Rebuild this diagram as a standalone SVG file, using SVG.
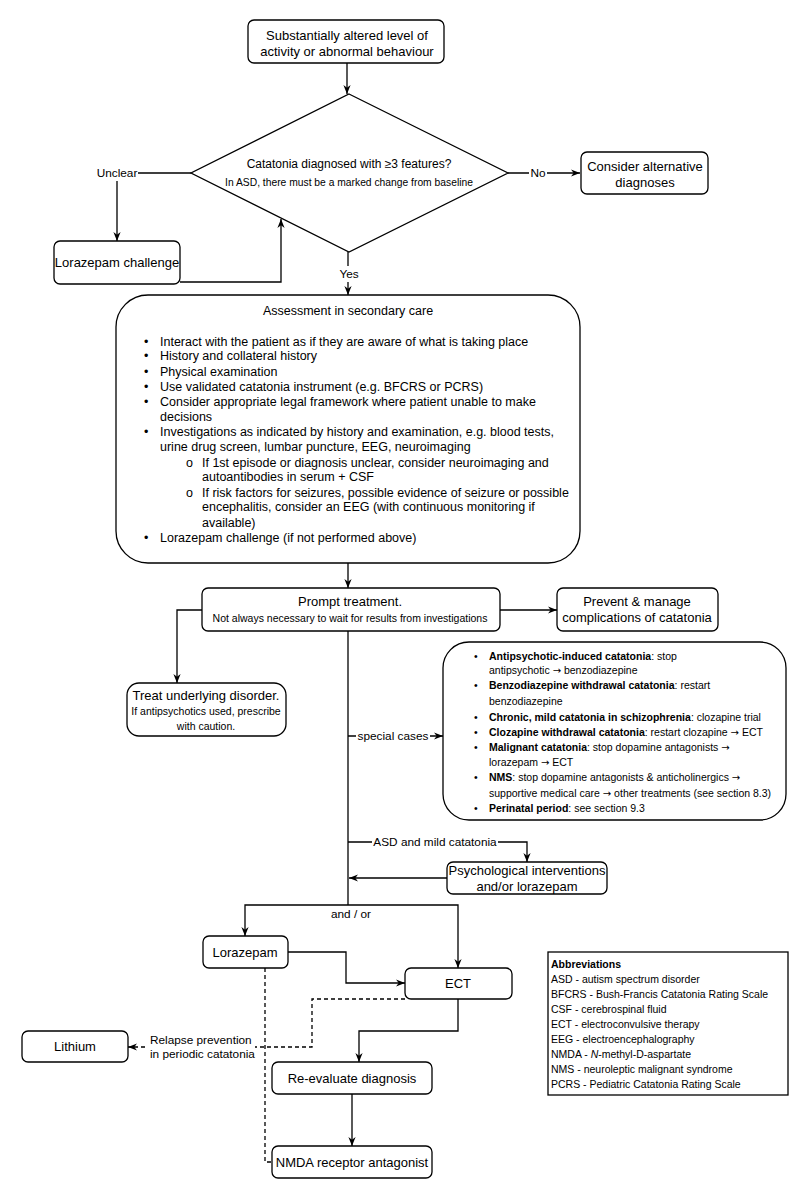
<svg xmlns="http://www.w3.org/2000/svg" width="801" height="1200" viewBox="0 0 801 1200">
<style>
text{font-family:"Liberation Sans",Arial,Helvetica,sans-serif;fill:#000}
.box{fill:#fff;stroke:#000;stroke-width:1.3}
.c{text-anchor:middle}
.m{font-size:13px}
.s{font-size:10.5px}
.l{font-size:11.8px}
.b{font-size:12.5px}
.e{fill:none;stroke:#000;stroke-width:1.3}
.d{fill:none;stroke:#000;stroke-width:1.3;stroke-dasharray:4 3}
.bg{fill:#fff}
.ar{font-family:"DejaVu Sans",sans-serif;font-size:10px}
</style>
<defs>
<marker id="arr" viewBox="0 0 10 10" refX="10" refY="5" markerWidth="9" markerHeight="9" markerUnits="userSpaceOnUse" orient="auto"><path d="M0,1 L10,5 L0,9 L3,5 z" fill="#000"/></marker>
</defs>
<rect width="801" height="1200" fill="#fff"/>

<g id="connectors">
<path class="e" d="M347,63 V94" marker-end="url(#arr)"/>
<path class="e" d="M508,173 H580" marker-end="url(#arr)"/>
<path class="e" d="M191,173 H117 V241" marker-end="url(#arr)"/>
<path class="e" d="M180,282 H281 V219" marker-end="url(#arr)"/>
<path class="e" d="M348,252 V295" marker-end="url(#arr)"/>
<path class="e" d="M348,563 V588" marker-end="url(#arr)"/>
<path class="e" d="M500,610 H557" marker-end="url(#arr)"/>
<path class="e" d="M202,610 H177 V683" marker-end="url(#arr)"/>
<path class="e" d="M348,631 V905"/>
<path class="e" d="M348,736 H443" marker-end="url(#arr)"/>
<path class="e" d="M348,842 H527 V862" marker-end="url(#arr)"/>
<path class="e" d="M447,878 H349" marker-end="url(#arr)"/>
<path class="e" d="M348,905 H245 V936" marker-end="url(#arr)"/>
<path class="e" d="M348,905 H458 V968" marker-end="url(#arr)"/>
<path class="e" d="M288,952 H346 V983 H405" marker-end="url(#arr)"/>
<path class="e" d="M458,999 V1031 H359 V1062" marker-end="url(#arr)"/>
<path class="e" d="M352,1094 V1146" marker-end="url(#arr)"/>
<path class="d" d="M265,968 V1162 H272"/>
<path class="d" d="M405,999 H312 V1047 H128" marker-end="url(#arr)"/>
<rect class="bg" x="96" y="165" width="42" height="16"/>
<text class="l c" x="117" y="177">Unclear</text>
<rect class="bg" x="529" y="165" width="18" height="16"/>
<text class="l c" x="538" y="177">No</text>
<rect class="bg" x="337" y="266" width="24" height="16"/>
<text class="l c" x="349" y="278">Yes</text>
<rect class="bg" x="356" y="728" width="74" height="16"/>
<text class="l c" x="393" y="740">special cases</text>
<rect class="bg" x="372" y="834" width="126" height="16"/>
<text class="l c" x="435" y="846">ASD and mild catatonia</text>
<text class="l c" x="351" y="918">and / or</text>
<rect class="bg" x="147" y="1033" width="108" height="28"/>
<text class="l" x="150" y="1044">Relapse prevention</text>
<text class="l" x="150" y="1058">in periodic catatonia</text>
</g>

<g id="start">
<rect class="box" x="248" y="20" width="196" height="43" rx="6"/>
<text class="m c" x="347" y="40">Substantially altered level of</text>
<text class="m c" x="347" y="56">activity or abnormal behaviour</text>
</g>

<g id="decision">
<polygon class="box" points="349,94 508,173 349,252 191,173"/>
<text class="c" x="349" y="168" font-size="12px">Catatonia diagnosed with ≥3 features?</text>
<text class="c" x="349" y="186" font-size="10.3px">In ASD, there must be a marked change from baseline</text>
</g>

<g id="alternative">
<rect class="box" x="581" y="152" width="127" height="42" rx="6"/>
<text class="m c" x="645" y="171">Consider alternative</text>
<text class="m c" x="645" y="187">diagnoses</text>
</g>

<g id="lorazepam-challenge">
<rect class="box" x="54" y="241" width="126" height="43" rx="6"/>
<text class="m c" x="117" y="267">Lorazepam challenge</text>
</g>

<g id="assessment">
<rect class="box" x="116" y="295" width="464" height="268" rx="32"/>
<text class="b c" x="348" y="315">Assessment in secondary care</text>
<g class="b">
<text x="144" y="346">•</text><text x="160" y="346">Interact with the patient as if they are aware of what is taking place</text>
<text x="144" y="360">•</text><text x="160" y="360">History and collateral history</text>
<text x="144" y="376">•</text><text x="160" y="376">Physical examination</text>
<text x="144" y="391">•</text><text x="160" y="391">Use validated catatonia instrument (e.g. BFCRS or PCRS)</text>
<text x="144" y="406">•</text><text x="160" y="406">Consider appropriate legal framework where patient unable to make</text>
<text x="160" y="421">decisions</text>
<text x="144" y="436">•</text><text x="160" y="436">Investigations as indicated by history and examination, e.g. blood tests,</text>
<text x="160" y="451">urine drug screen, lumbar puncture, EEG, neuroimaging</text>
<text x="186" y="467">o</text><text x="202" y="467">If 1st episode or diagnosis unclear, consider neuroimaging and</text>
<text x="202" y="481">autoantibodies in serum + CSF</text>
<text x="186" y="497">o</text><text x="202" y="497">If risk factors for seizures, possible evidence of seizure or possible</text>
<text x="202" y="511">encephalitis, consider an EEG (with continuous monitoring if</text>
<text x="202" y="527">available)</text>
<text x="144" y="542">•</text><text x="160" y="542">Lorazepam challenge (if not performed above)</text>
</g>
</g>

<g id="prompt">
<rect class="box" x="202" y="588" width="298" height="43" rx="6"/>
<text class="m c" x="350" y="606">Prompt treatment.</text>
<text class="s c" x="350" y="622">Not always necessary to wait for results from investigations</text>
</g>

<g id="prevent">
<rect class="box" x="557" y="588" width="161" height="43" rx="6"/>
<text class="m c" x="637" y="606">Prevent &amp; manage</text>
<text class="m c" x="637" y="622">complications of catatonia</text>
</g>

<g id="treat">
<rect class="box" x="127" y="683" width="159" height="53" rx="12"/>
<text class="m c" x="206" y="700">Treat underlying disorder.</text>
<text class="s c" x="206" y="715">If antipsychotics used, prescribe</text>
<text class="s c" x="206" y="730">with caution.</text>
</g>

<g id="special">
<rect class="box" x="443" y="642" width="343" height="178" rx="26"/>
<g class="s">
<text x="474" y="660">•</text><text x="489" y="660"><tspan font-weight="bold">Antipsychotic-induced catatonia</tspan>: stop</text>
<text x="489" y="674">antipsychotic <tspan class="ar">→</tspan> benzodiazepine</text>
<text x="474" y="689">•</text><text x="489" y="689"><tspan font-weight="bold">Benzodiazepine withdrawal catatonia</tspan>: restart</text>
<text x="489" y="705">benzodiazepine</text>
<text x="474" y="721">•</text><text x="489" y="721"><tspan font-weight="bold">Chronic, mild catatonia in schizophrenia</tspan>: clozapine trial</text>
<text x="474" y="736">•</text><text x="489" y="736"><tspan font-weight="bold">Clozapine withdrawal catatonia</tspan>: restart clozapine <tspan class="ar">→</tspan> ECT</text>
<text x="474" y="751">•</text><text x="489" y="751"><tspan font-weight="bold">Malignant catatonia</tspan>: stop dopamine antagonists <tspan class="ar">→</tspan></text>
<text x="489" y="766">lorazepam <tspan class="ar">→</tspan> ECT</text>
<text x="474" y="781">•</text><text x="489" y="781"><tspan font-weight="bold">NMS</tspan>: stop dopamine antagonists &amp; anticholinergics <tspan class="ar">→</tspan></text>
<text x="489" y="797">supportive medical care <tspan class="ar">→</tspan> other treatments (see section 8.3)</text>
<text x="474" y="812">•</text><text x="489" y="812"><tspan font-weight="bold">Perinatal period</tspan>: see section 9.3</text>
</g>
</g>

<g id="psych">
<rect class="box" x="447" y="862" width="160" height="32" rx="6"/>
<text class="m c" x="527" y="875">Psychological interventions</text>
<text class="m c" x="527" y="891">and/or lorazepam</text>
</g>

<g id="lorazepam">
<rect class="box" x="203" y="936" width="85" height="32" rx="6"/>
<text class="m c" x="245" y="957">Lorazepam</text>
</g>

<g id="ect">
<rect class="box" x="405" y="968" width="107" height="31" rx="6"/>
<text class="m c" x="458" y="988">ECT</text>
</g>

<g id="lithium">
<rect class="box" x="22" y="1031" width="106" height="31" rx="6"/>
<text class="m c" x="75" y="1051">Lithium</text>
</g>

<g id="reevaluate">
<rect class="box" x="272" y="1062" width="160" height="32" rx="6"/>
<text class="m c" x="352" y="1083">Re-evaluate diagnosis</text>
</g>

<g id="nmda">
<rect class="box" x="272" y="1146" width="160" height="32" rx="6"/>
<text class="m c" x="352" y="1167">NMDA receptor antagonist</text>
</g>

<g id="abbreviations">
<rect x="548" y="952" width="240" height="143" fill="#fff" stroke="#000" stroke-width="1.3"/>
<g class="s">
<text x="551" y="968" font-weight="bold">Abbreviations</text>
<text x="551" y="983">ASD - autism spectrum disorder</text>
<text x="551" y="998">BFCRS - Bush-Francis Catatonia Rating Scale</text>
<text x="551" y="1013">CSF - cerebrospinal fluid</text>
<text x="551" y="1028">ECT - electroconvulsive therapy</text>
<text x="551" y="1043">EEG - electroencephalography</text>
<text x="551" y="1058">NMDA - <tspan font-style="italic">N</tspan>-methyl-D-aspartate</text>
<text x="551" y="1073">NMS - neuroleptic malignant syndrome</text>
<text x="551" y="1088">PCRS - Pediatric Catatonia Rating Scale</text>
</g>
</g>
</svg>
